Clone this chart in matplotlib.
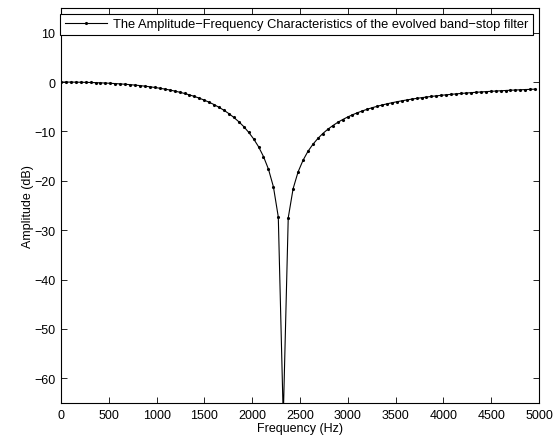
import matplotlib
matplotlib.use("Agg")
import matplotlib.pyplot as plt

plt.rcParams['font.family'] = ['Liberation Sans', 'DejaVu Sans']
plt.rcParams['font.size'] = 9

# frequency grid (Hz)
freq = [0, 52, 103, 155, 207, 258, 310, 362, 413, 465, 517, 568, 620, 672, 723,
        775, 827, 878, 930, 982, 1033, 1085, 1137, 1188, 1240, 1292, 1343, 1395,
        1447, 1498, 1550, 1602, 1653, 1705, 1757, 1808, 1860, 1912, 1963, 2015,
        2067, 2118, 2170, 2222, 2273, 2325, 2377, 2428, 2480, 2532, 2583, 2635,
        2687, 2738, 2790, 2842, 2893, 2945, 2997, 3048, 3100, 3152, 3203, 3255,
        3307, 3358, 3410, 3462, 3513, 3565, 3617, 3668, 3720, 3772, 3823, 3875,
        3927, 3978, 4030, 4082, 4133, 4185, 4237, 4288, 4340, 4392, 4443, 4495,
        4547, 4598, 4650, 4702, 4753, 4805, 4857, 4908, 4960]

# amplitude (dB)
amp = [0.0, -0.002, -0.009, -0.021, -0.038, -0.059, -0.086, -0.118, -0.156,
       -0.200, -0.250, -0.307, -0.372, -0.445, -0.525, -0.617, -0.718, -0.830,
       -0.955, -1.094, -1.248, -1.418, -1.607, -1.817, -2.049, -2.306, -2.591,
       -2.908, -3.261, -3.652, -4.087, -4.571, -5.113, -5.719, -6.398, -7.165,
       -8.034, -9.026, -10.170, -11.510, -13.110, -15.080, -17.626, -21.211,
       -27.308, -68.0, -27.50, -21.595, -18.197, -15.834, -14.039, -12.607,
       -11.426, -10.430, -9.577, -8.835, -8.184, -7.608, -7.095, -6.635, -6.221,
       -5.846, -5.506, -5.195, -4.911, -4.651, -4.411, -4.191, -3.987, -3.798,
       -3.622, -3.459, -3.307, -3.165, -3.033, -2.908, -2.792, -2.683, -2.581,
       -2.485, -2.393, -2.306, -2.225, -2.148, -2.075, -2.005, -1.940, -1.877,
       -1.819, -1.763, -1.709, -1.658, -1.609, -1.563, -1.518, -1.476, -1.436]

xticks = [0, 500, 1000, 1500, 2000, 2500, 3000, 3500, 4000, 4500, 5000]
yticks = [10, 0, -10, -20, -30, -40, -50, -60]

label = 'The Amplitude\u2212Frequency Characteristics of the evolved band\u2212stop filter'

fig = plt.figure(figsize=(5.56, 4.39), dpi=100)
ax = fig.add_axes([0.1097, 0.0797, 0.8597, 0.8998])

ax.plot(freq, amp, color='black', linewidth=0.8, marker='.', markersize=2.5,
        label=label)

ax.set_xlim(0, 5000)
ax.set_ylim(-65, 15)
ax.set_xticks(xticks)
ax.set_yticks(yticks)
ax.tick_params(direction='in', top=True, right=True, length=4, width=0.6,
               labelsize=9, pad=4)
for s in ax.spines.values():
    s.set_linewidth(0.8)

ax.set_xlabel('Frequency (Hz)', labelpad=1)
ax.set_ylabel('Amplitude (dB)', labelpad=0)

leg = ax.legend(loc='upper left', bbox_to_anchor=(-0.002, 0.985),
                borderaxespad=0, fancybox=False, framealpha=1,
                edgecolor='black', handlelength=3.3, handletextpad=0.45,
                borderpad=0.35, prop={'size': 9.3})
leg.get_frame().set_linewidth(0.8)

fig.savefig('out.png', dpi=100)
